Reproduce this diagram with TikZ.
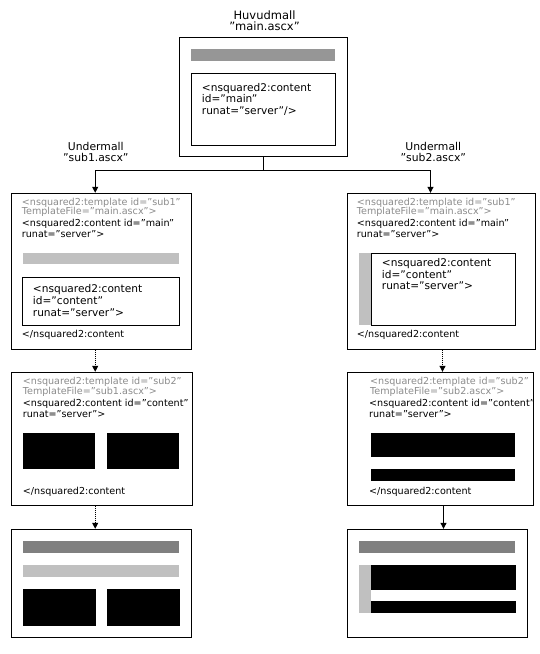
\documentclass[tikz,border=0pt]{standalone}
\usepackage{fontspec}
\setmainfont{DejaVu Sans}
\usetikzlibrary{fit,arrows.meta}
\definecolor{txtgray}{HTML}{8C8C8C}
\definecolor{bargray}{HTML}{969696}
\definecolor{darkbar}{HTML}{808080}
\definecolor{lightbar}{HTML}{C0C0C0}
\tikzset{
  frame/.style={draw=black, line width=1pt, inner sep=0pt, fit={#1}},
  fillbox/.style 2 args={fill=#1, draw=none, inner sep=0pt, fit={#2}},
  smalltxt/.style={anchor=base west, inner sep=0pt, font=\fontsize{9.6}{11}\selectfont},
  graytxt/.style={smalltxt, text=txtgray},
  bigtxt/.style={anchor=base west, inner sep=0pt, font=\fontsize{10.6}{12}\selectfont},
  titletxt/.style={anchor=base, inner sep=0pt, font=\fontsize{11.5}{13}\selectfont},
  subtitle/.style={anchor=base, inner sep=0pt, font=\fontsize{10.8}{12}\selectfont},
  conn/.style={draw=black, line width=1pt},
  arr/.style={conn, -{Triangle[width=6pt,length=6pt]}},
  dotline/.style={dash pattern=on 1pt off 1pt}
}
\begin{document}
\begin{tikzpicture}[x=1pt, y=-1pt]
\useasboundingbox[fill=white] (0,0) rectangle (539,654);

% ---- titles
\node[titletxt] (t1) at (264.5,19) {Huvudmall};
\node[titletxt] (t2) at (264.5,30.5) {”main.ascx”};
\node[subtitle] (u1) at (95.8,150) {Undermall};
\node[subtitle] (u2) at (95.8,161.5) {”sub1.ascx”};
\node[subtitle] (u3) at (433.3,150) {Undermall};
\node[subtitle] (u4) at (433.3,161.5) {”sub2.ascx”};

% ---- main template
\node[frame={(179.3,37.3) (347.7,156.7)}] (main) {};
\node[fillbox={bargray}{(191,49.3) (335,60.7)}] (mainbar) {};
\node[frame={(191,73.3) (335.7,145.3)}] (maininner) {};
\node[bigtxt] (m1) at (201.7,91) {<nsquared2:content};
\node[bigtxt] (m2) at (201.7,102.5) {id=”main”};
\node[bigtxt] (m3) at (201.7,114) {runat=”server”/>};

% ---- left column, level 1
\node[frame={(11.7,193.3) (191,349)}] (L1) {};
\node[graytxt] (l1a) at (21.7,205) {<nsquared2:template id=”sub1”};
\node[graytxt] (l1b) at (21.7,214.5) {TemplateFile=”main.ascx”>};
\node[smalltxt] (l1c) at (21.7,226.5) {<nsquared2:content id=”main”};
\node[smalltxt] (l1d) at (21.7,237.5) {runat=”server”>};
\node[fillbox={lightbar}{(22.7,252.7) (179,264.3)}] (L1bar) {};
\node[frame={(22.7,277.7) (179.3,325)}] (L1inner) {};
\node[bigtxt] (l1e) at (32.7,292.7) {<nsquared2:content};
\node[bigtxt] (l1f) at (32.7,304.3) {id=”content”};
\node[bigtxt] (l1g) at (32.7,316) {runat=”server”>};
\node[smalltxt] (l1h) at (21.7,337) {</nsquared2:content};

% ---- right column, level 1
\node[frame={(347.3,193.3) (535,349)}] (R1) {};
\node[graytxt] (r1a) at (356.7,205) {<nsquared2:template id=”sub1”};
\node[graytxt] (r1b) at (356.7,214.5) {TemplateFile=”main.ascx”>};
\node[smalltxt] (r1c) at (356.7,226.5) {<nsquared2:content id=”main”};
\node[smalltxt] (r1d) at (356.7,237.5) {runat=”server”>};
\node[fillbox={lightbar}{(359,253) (371,325)}] (R1bar) {};
\node[frame={(371,253) (515.7,325)}] (R1inner) {};
\node[bigtxt] (r1e) at (381.7,266.5) {<nsquared2:content};
\node[bigtxt] (r1f) at (381.7,278) {id=”content”};
\node[bigtxt] (r1g) at (381.7,289.5) {runat=”server”>};
\node[smalltxt] (r1h) at (356.7,337) {</nsquared2:content};

% ---- left column, level 2
\node[frame={(11.7,372.3) (192.3,505)}] (L2) {};
\node[graytxt] (l2a) at (22.7,384.5) {<nsquared2:template id=”sub2”};
\node[graytxt] (l2b) at (22.7,394) {TemplateFile=”sub1.ascx”>};
\node[smalltxt] (l2c) at (22.7,406) {<nsquared2:content id=”content”};
\node[smalltxt] (l2d) at (22.7,417) {runat=”server”>};
\node[fillbox={black}{(22.7,432.7) (95,468.7)}] (L2k1) {};
\node[fillbox={black}{(106.7,432.7) (179,468.7)}] (L2k2) {};
\node[smalltxt] (l2h) at (22.7,494.5) {</nsquared2:content};

% ---- right column, level 2
\node[frame={(347.3,372.3) (533.3,505)}] (R2) {};
\node[graytxt] (r2a) at (370,384.5) {<nsquared2:template id=”sub2”};
\node[graytxt] (r2b) at (370,394) {TemplateFile=”sub2.ascx”>};
\node[smalltxt] (r2c) at (369,406) {<nsquared2:content id=”content”};
\node[smalltxt] (r2d) at (369,417) {runat=”server”>};
\node[fillbox={black}{(371,432.7) (515,456.7)}] (R2k1) {};
\node[fillbox={black}{(371,469.3) (515,480.7)}] (R2k2) {};
\node[smalltxt] (r2h) at (369,494.5) {</nsquared2:content};

% ---- left column, result
\node[frame={(11.7,529.3) (191.7,637.3)}] (L3) {};
\node[fillbox={darkbar}{(22.7,541) (179,552.7)}] (L3d) {};
\node[fillbox={lightbar}{(22.7,565) (179,576.7)}] (L3l) {};
\node[fillbox={black}{(22.7,589) (96,625.7)}] (L3k1) {};
\node[fillbox={black}{(107,589) (180,625.7)}] (L3k2) {};

% ---- right column, result
\node[frame={(347.3,529.3) (527.7,637.3)}] (R3) {};
\node[fillbox={darkbar}{(359,541) (515,552.7)}] (R3d) {};
\node[fillbox={lightbar}{(359,565) (371,612.7)}] (R3l) {};
\node[fillbox={black}{(371,565) (516,590)}] (R3k1) {};
\node[fillbox={black}{(371,601) (516,612.7)}] (R3k2) {};

% ---- connectors
\coordinate (j) at (263.5,170);
\draw[conn] (main.south) -- (j);
\draw[arr] (j) -| ([xshift=84pt]L1.north west);
\draw[arr] (j) -| ([xshift=83.7pt]R1.north west);
\draw[arr, dotline] ([xshift=84pt]L1.south west) -- ([xshift=84pt]L2.north west);
\draw[arr, dotline] ([xshift=84pt]L2.south west) -- ([xshift=84pt]L3.north west);
\draw[arr, dotline] ([xshift=95.7pt]R1.south west) -- ([xshift=95.7pt]R2.north west);
\draw[arr] ([xshift=96.7pt]R2.south west) -- ([xshift=96.7pt]R3.north west);
\end{tikzpicture}
\end{document}
